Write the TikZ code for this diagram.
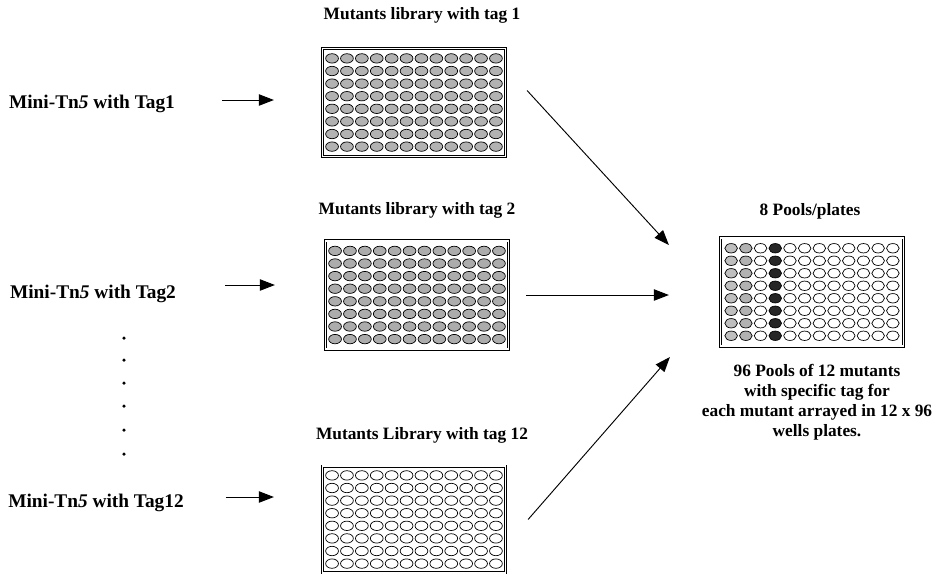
\documentclass[tikz,border=0pt]{standalone}
\usepackage{fontspec}
\setmainfont{Liberation Serif}
\usetikzlibrary{arrows.meta,positioning,calc}

\begin{document}
\begin{tikzpicture}[x=0.03cm,y=-0.03cm,
  plate/.style={draw,double,line width=0.7pt,double distance=1.3pt,inner sep=0pt,
    minimum width=5.5cm,minimum height=3.25cm},
  well/.style={draw,line width=0.6pt},
  lb/.style={font=\fontsize{14.8}{17}\selectfont\bfseries},
  tn/.style={font=\fontsize{16.5}{18}\selectfont\bfseries},
  ar/.style={line width=0.8pt,-{Triangle[length=4.5mm,width=3.4mm]}}
]
\useasboundingbox (0,0) rectangle (943,574);
% ---- left column: the tagged transposons ----
\node[tn] (L1) at (92,104)  {Mini-Tn\textit{5} with Tag1};
\node[tn] (L2) at (93,294)  {Mini-Tn\textit{5} with Tag2};
\node[tn] (L3) at (96,503)  {Mini-Tn\textit{5} with Tag12};
\foreach \y in {338,360,383,406,430,454}
  \fill (124,\y) circle (1.5pt);
% ---- middle column: one library plate per tag ----
\node[plate] (p1) at (414,102.5) {};
\node[plate] (p2) at (417,295)   {};
\node[plate,minimum height=3.2cm] (p3) at (414,519.5) {};
\node[lb] (t1) at (422,15)  {Mutants library with tag 1};
\node[lb] (t2) at (417,210) {Mutants library with tag 2};
\node[lb] (t3) at (422,435) {Mutants Library with tag 12};
\foreach \p/\f in {p1/gray!60,p2/gray!65,p3/white}{
  \begin{scope}[shift={(\p.center)}]
    \foreach \c in {1,...,12}
      \foreach \r in {1,...,8}
        \draw[well,fill=\f] (\c*14.9-96.85,\r*12.6-56.7) ellipse [x radius=6.4,y radius=4.7];
  \end{scope}
}
% ---- right column: pooled plates ----
\node[plate] (pool) at (812,292) {};
\node[lb] (tp) at (810,211) {8 Pools/plates};
\begin{scope}[shift={(pool.center)}]
  \foreach \c/\f in {1/gray!50,2/gray!60,3/white,4/black!85,5/white,6/white,
                     7/white,8/white,9/white,10/white,11/white,12/white}
    \foreach \r in {1,...,8}
      \draw[well,fill=\f] (\c*14.7-95.55,\r*12.5-56.25) ellipse [x radius=6.3,y radius=4.7];
\end{scope}
\node[lb,align=center] (cap) at (817,402)
  {96 Pools of 12 mutants\\with specific tag for\\each mutant arrayed in 12 x 96\\wells plates.};
% ---- arrows ----
\draw[ar] ($(L1.east)+(43,-4)$) -- ($(p1.west)+(-48,-2.5)$);
\draw[ar] ($(L2.east)+(45,-9)$) -- ($(p2.west)+(-50,-10)$);
\draw[ar] ($(L3.east)+(38,-6)$) -- ($(p3.west)+(-48,-22.5)$);
\draw[ar] ($(p1.east)+(21,-12)$) -- ($(pool.west)+(-51,-47)$);
\draw[ar] ($(p2.east)+(17,0)$)   -- ($(pool.west)+(-51,3)$);
\draw[ar] ($(p3.east)+(22,0)$)   -- ($(pool.west)+(-50,65)$);
\end{tikzpicture}
\end{document}
